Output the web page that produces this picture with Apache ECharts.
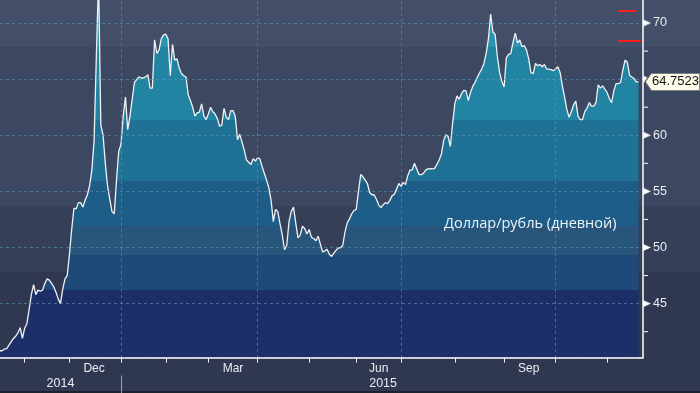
<!DOCTYPE html>
<html><head><meta charset="utf-8">
<script src="https://cdn.jsdelivr.net/npm/echarts@6/dist/echarts.min.js"></script>
<style>
html,body{margin:0;padding:0;background:#2f3850}
#c{width:700px;height:393px;background:linear-gradient(to bottom,#434f69 0,#434f69 47px,#3c4862 47px,#3c4862 206px,#353f57 206px,#353f57 272px,#2f3850 272px,#2f3850 391px,#1c2230 391px)}
</style></head><body><div id="c"></div>
<script>
// USD/RUB daily close, grouped by month (trading days)
const oct14 = [40.8,40.8,40.95,41.0,41.3,41.6,41.9,42.1,42.4,42.85,41.9];
const nov14 = [42.8,43.2,44.5,45.8,46.7,45.8,46.2,46.1,46.2,46.8,47.2,47.1,46.8,46.5,46.0,45.4,45.0,46.3,47.2,47.5];
const dec14 = [49.4,51.6,53.5,53.45,54.0,54.0,53.6,54.2,54.7,55.5,56.9,59.5,67.0,74.0,60.9,60.0,57.5,55.5,54.3,53.2,53.0,56.0,58.55];
const jan15 = [59.2,61.7,63.4,60.5,61.7,63.2,64.7,64.95,65.2,65.1,65.1,65.2,65.4,64.2,64.2,68.5,67.3,67.6,68.6,68.95];
const feb15 = [69.0,68.6,65.3,68.1,66.7,66.8,66.0,65.5,65.3,65.2,63.6,63.1,62.5,61.7,62.0,62.07,62.8,61.7,61.4];
const mar15 = [61.9,62.5,62.1,61.9,61.5,60.8,60.9,62.4,61.6,61.4,62.2,62.2,61.7,59.6,60.1,59.4,58.7,57.8,57.6,57.4,57.9,57.7];
const apr15 = [58.0,57.9,57.2,56.6,56.0,55.3,54.2,52.3,53.4,53.2,52.1,51.1,49.8,50.2,52.3,53.2,53.6,52.2,50.86,51.1,51.9,51.7,51.2];
const may15 = [51.6,50.9,50.8,50.6,51.0,50.3,49.6,49.7,49.85,49.4,49.2,49.5,49.75,49.97,49.97,50.2,51.4,52.2,52.55,53.0,53.3];
const jun15 = [53.4,55.0,56.5,56.3,56.0,55.7,54.9,54.7,54.7,54.3,53.8,53.55,53.8,54.0,53.9,54.2,54.6,54.75,55.2,55.7];
const jul15 = [55.45,55.8,55.6,56.4,56.9,56.9,57.5,57.0,56.5,56.5,56.6,56.9,57.0,57.02,57.0,57.05,57.4,57.8,58.3,59.5,60.05,59.9,59.0,61.0];
const aug15 = [62.8,63.5,63.2,63.7,64.0,63.95,63.1,63.8,64.35,64.7,65.15,65.55,65.9,66.4,67.3,68.6,70.8,69.2,69.0,67.0,65.6,64.8];
const sep15 = [64.3,66.9,67.2,67.3,68.3,69.1,68.2,68.5,67.9,68.0,67.6,66.8,65.55,65.5,66.4,66.2,66.3,66.1,66.3,65.9,65.9,65.85,65.75];
const oct15 = [65.9,66.1,65.6,64.4,63.4,62.3,61.6,62.1,62.7,63.05,61.7,61.4,61.4,62.1,62.4,62.9,62.6,62.6,62.9,64.5,64.2,64.4,64.1];
const nov15 = [63.8,63.25,62.9,64.0,64.6,64.6,64.7,65.8,66.7,66.5,65.35,65.2,65.05,64.75,64.7523];

const monthNames = ['Oct','Nov','Dec','Jan','Feb','Mar','Apr','May','Jun','Jul','Aug','Sep','Oct','Nov'];
const monthYears = [2014,2014,2014,2015,2015,2015,2015,2015,2015,2015,2015,2015,2015,2015];
const monthValues = [oct14,nov14,dec14,jan15,feb15,mar15,apr15,may15,jun15,jul15,aug15,sep15,oct15,nov15];
const labeledMonths = ['Dec','Mar','Jun','Sep'];
const quarterMonths = ['Jan','Apr','Jul','Oct'];
const minorTickValues = [42.5, 47.5, 52.5, 57.5, 62.5, 67.5];
const redLevels = [71.1, 68.45];
const titleText = 'Доллар/рубль (дневной)';
const PAD_DAYS = 2;

const cats = [], values = [], catYear = [];
const monthStart = new Set(), quarterStart = new Set(), labelAt = {};
monthNames.forEach((m, k) => {
  const arr = monthValues[k], y = monthYears[k], start = cats.length;
  if (k > 0) monthStart.add(start);
  if (k > 0 && quarterMonths.includes(m)) quarterStart.add(start);
  if (labeledMonths.includes(m)) labelAt[start + Math.round((arr.length - 1) / 2)] = m;
  arr.forEach((v, d) => { cats.push(m + ' ' + y + ' #' + (d + 1)); values.push(v); catYear.push(y); });
});
for (let p = 0; p < PAD_DAYS; p++) { cats.push('pad' + p); catYear.push(catYear[catYear.length - 1]); }
const yearStart = new Set(), yearLabelAt = {};
const yearsList = [...new Set(catYear)];
yearsList.forEach((y, k) => {
  const first = catYear.indexOf(y), last = catYear.lastIndexOf(y);
  if (k > 0) yearStart.add(first);
  yearLabelAt[Math.round((first + last) / 2)] = String(y);
});
const lastIdx = values.length - 1, lastValue = values[lastIdx], axisIdx = cats.length - 1;

// area colour bands (pixel rows)
const bandEdges = [47, 120, 181, 226, 255, 290];
const bandColors = ['#2993b0','#2184a2','#1f7296','#1e5d88','#27557b','#1e4a7a','#1c2f69'];
const stops = [];
bandColors.forEach((c, i) => {
  const a = i === 0 ? 0 : bandEdges[i - 1] / 393, b = i === bandEdges.length ? 1 : bandEdges[i] / 393;
  stops.push({offset: a, color: c}, {offset: b, color: c});
});

// small white pointer drawn beside each y label
const tri = document.createElement('canvas');
tri.width = 8; tri.height = 7;
(function () {
  const g = tri.getContext('2d');
  g.fillStyle = '#ffffff';
  g.beginPath(); g.moveTo(0, 0); g.lineTo(8, 3.5); g.lineTo(0, 7); g.closePath(); g.fill();
})();

const gridColor = 'rgba(95,150,182,0.6)';
const markPoints = [{
  coord: [lastIdx, lastValue], value: lastValue,
  symbol: 'path://M0,8 L6,0 L55,0 L55,16 L6,16 Z', symbolSize: [55, 17], symbolKeepAspect: false,
  symbolOffset: [34, 0],
  itemStyle: {color: '#fffbea', borderColor: '#5a5a5a', borderWidth: 0.8},
  label: {show: true, position: 'inside', offset: [3, 0], color: '#111111', fontSize: 13,
    fontFamily: 'Liberation Sans', formatter: () => lastValue.toFixed(4)}
}];
minorTickValues.forEach(v => markPoints.push({
  coord: [axisIdx, v], symbol: 'rect', symbolSize: [4, 1], symbolOffset: [3, 0],
  itemStyle: {color: '#ffffff'}, label: {show: false}
}));

const chart = echarts.init(document.getElementById('c'), null, {renderer: 'canvas'});
chart.setOption({
  animation: false,
  title: {text: titleText, left: 444, top: 216, padding: 0,
    textStyle: {color: '#f0f3f6', fontSize: 14.5, fontWeight: 'normal', fontFamily: 'Open Sans'}},
  grid: {left: 0, right: 57, top: -23, bottom: 35.5, containLabel: false, outerBoundsMode: 'none'},
  xAxis: [{
    type: 'category', data: cats, boundaryGap: false, z: 5,
    axisLine: {lineStyle: {color: '#ffffff', width: 1.5}},
    axisTick: {interval: i => monthStart.has(i), length: 5, lineStyle: {color: '#ffffff'}},
    axisLabel: {interval: 0, formatter: (v, i) => labelAt[i] || '', color: '#e8edf2', fontSize: 12,
      fontFamily: 'Liberation Sans', margin: 5},
    splitLine: {show: true, interval: i => quarterStart.has(i), lineStyle: {color: gridColor, type: [3, 3], width: 1}}
  }, {
    type: 'category', data: cats, boundaryGap: false, position: 'bottom', offset: 18, z: 5,
    axisLine: {show: false},
    axisTick: {interval: i => yearStart.has(i), length: 18, lineStyle: {color: '#9aa3b1'}},
    axisLabel: {interval: 0, formatter: (v, i) => yearLabelAt[i] || '', color: '#e8edf2', fontSize: 12.5,
      fontFamily: 'Liberation Sans', margin: 2},
    splitLine: {show: false}
  }],
  yAxis: {
    type: 'value', position: 'right', min: 40.2, max: 74.1, z: 5,
    axisLine: {show: true, lineStyle: {color: '#ffffff', width: 1.5}},
    axisTick: {show: false},
    minorTick: {show: false},
    axisLabel: {showMinLabel: false, showMaxLabel: false, margin: 0,
      formatter: v => '{t| }{n|' + v + '}',
      rich: {t: {width: 8, height: 7, backgroundColor: {image: tri}},
             n: {fontSize: 12.5, color: '#e8edf2', fontFamily: 'Liberation Sans', padding: [0, 0, 0, 2]}}},
    splitLine: {show: true, lineStyle: {color: gridColor, type: [3, 3], width: 1}}
  },
  series: [{
    type: 'line', data: values, showSymbol: false, symbol: 'none', z: 2,
    lineStyle: {color: '#f0f2f4', width: 1.3},
    areaStyle: {opacity: 1, color: {type: 'linear', x: 0, y: 0, x2: 0, y2: 393, global: true, colorStops: stops}},
    markLine: {
      silent: true, z: 10, symbol: ['none', 'none'], label: {show: false},
      lineStyle: {color: '#ff1e1e', width: 2, type: 'solid'},
      data: [
        [{coord: [lastIdx - 9, redLevels[0]]}, {coord: [lastIdx - 1, redLevels[0]]}],
        [{coord: [lastIdx - 9, redLevels[1]]}, {coord: [lastIdx + 1, redLevels[1]]}]
      ]
    },
    markPoint: {silent: true, z: 10, data: markPoints}
  }]
});
</script></body></html>
